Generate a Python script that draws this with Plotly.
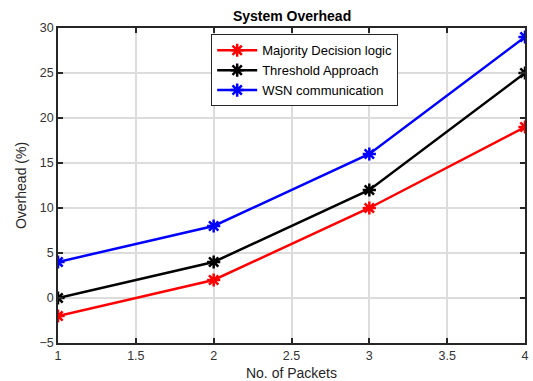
import plotly.graph_objects as go

packets = [1, 2, 3, 4]
majority = [-2, 2, 10, 19]
threshold = [0, 4, 12, 25]
wsn = [4, 8, 16, 29]

series = [
    ("Majority Decision logic", majority, "#ff0000"),
    ("Threshold Approach", threshold, "#000000"),
    ("WSN communication", wsn, "#0000ff"),
]

fig = go.Figure()
for name, ys, col in series:
    fig.add_trace(go.Scatter(
        x=packets, y=ys, name=name, mode="lines+markers",
        line=dict(color=col, width=2.5),
        marker=dict(symbol="asterisk", size=11, color=col,
                    line=dict(color=col, width=2.5)),
    ))

font = "Liberation Sans, Arial"
axis_common = dict(
    showline=True, linecolor="#262626", linewidth=1.5, mirror="allticks",
    ticks="inside", ticklen=5, tickcolor="#262626", tickwidth=1.5,
    showgrid=True, gridcolor="#dcdcdc", gridwidth=1.5, zeroline=False,
    automargin=False,
    tickfont=dict(family=font, size=12.5, color="#333333"),
)

fig.update_layout(
    width=533, height=381,
    margin=dict(l=58, r=8, t=28, b=38),
    paper_bgcolor="white", plot_bgcolor="white",
    title=dict(text="<b>System Overhead</b>", x=0.548, xanchor="center",
               y=0.958, yanchor="middle",
               font=dict(family=font, size=14, color="#000000")),
    xaxis=dict(range=[1, 4], tickvals=[1, 1.5, 2, 2.5, 3, 3.5, 4],
               ticktext=["1", "1.5", "2", "2.5", "3", "3.5", "4"],
               title=dict(text="No. of Packets", standoff=8,
                          font=dict(family=font, size=14, color="#262626")),
               **axis_common),
    yaxis=dict(range=[-5, 30], tickvals=[-5, 0, 5, 10, 15, 20, 25, 30],
               title=dict(text="Overhead (%)", standoff=10,
                          font=dict(family=font, size=14, color="#262626")),
               **axis_common),
    legend=dict(x=0.328, y=0.98, xanchor="left", yanchor="top",
                bgcolor="white", bordercolor="#262626", borderwidth=1,
                font=dict(family=font, size=13, color="#000000"),
                tracegroupgap=0, itemwidth=40),
    showlegend=True,
)

fig.write_html("out.html")
